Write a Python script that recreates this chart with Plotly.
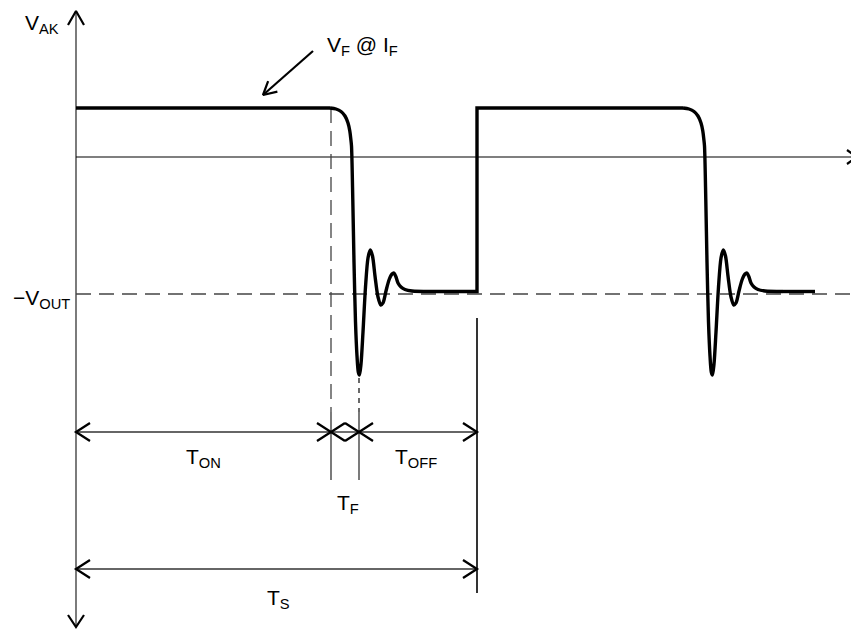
import math
import plotly.graph_objects as go

# ---------------- data (diagram coordinates: x = time, y = level, y grows downward) ----------------
W, H = 851, 629
axis_x0 = 76            # origin (time zero)
level_high = 108        # V_F @ I_F
level_zero = 157        # 0 V axis
level_neg = 294         # -V_OUT reference
level_settle = 291.5    # settled level after ringing

t_fall = [330, 683]     # start of each turn-off transition
t_rise = 477            # turn-on edge of next cycle
t_end = 815             # end of drawn waveform

# shape of the turn-off transition with ringing (offset from t_fall, level)
fall_dt = [0, 6, 11, 15, 18, 19.8, 20.8, 21.5, 22.8, 24, 25.5, 27, 28.3, 29.5, 31, 33, 35.5, 38, 40.3,
           42.5, 45, 48, 50.8, 53, 56, 59, 62, 64, 66, 68, 71, 75, 82, 100]
fall_v = [108, 109, 111.5, 116, 123, 131, 139, 146, 200, 262, 322, 356, 372, 375, 364, 332, 287, 258, 250,
          256, 276, 297, 305, 303, 291, 280, 274, 273, 277, 283, 287, 289.5, 291, 291.5]

# dimension lines
dim_labels = ["T<sub>ON</sub>", "T<sub>F</sub>", "T<sub>OFF</sub>", "T<sub>S</sub>"]
dim_y = [432, 432, 432, 569]
dim_start = [76, 331, 359, 76]
dim_end = [331, 359, 477, 477]
label_x = [203, 348, 416, 278]
label_y = [458, 504, 458, 599]

# ---------------- figure ----------------
fig = go.Figure()
BLACK = "#000000"
GRAY = "#333333"


def add_line(xs, ys, width=1.2, color=GRAY, dash="solid", shape="linear", smoothing=1.0):
    fig.add_trace(go.Scatter(x=xs, y=ys, mode="lines", hoverinfo="skip", showlegend=False,
                             line=dict(color=color, width=width, dash=dash, shape=shape,
                                       smoothing=smoothing)))


def chevron(tx, ty, dx, dy, length=14, half=9):
    # arrowhead with tip (tx,ty) pointing in direction (dx,dy)
    nx, ny = -dy, dx
    bx, by = tx - dx * length, ty - dy * length
    return [bx + nx * half, tx, bx - nx * half], [by + ny * half, ty, by - ny * half]


# axes
add_line([axis_x0, axis_x0], [11, 627], width=1.4, color="#444444")
add_line([axis_x0, W + 10], [level_zero, level_zero], width=1.2, color=BLACK)
ax, ay = chevron(axis_x0, 11, 0, -1, 14, 8)
add_line(ax, ay, width=2.2, color=BLACK)
ax, ay = chevron(axis_x0, 627, 0, 1, 12, 8)
add_line(ax, ay, width=2.2, color=BLACK)
ax, ay = chevron(W + 6, level_zero, 1, 0, 10, 7)
add_line(ax, ay, width=2.2, color=BLACK)

# -V_OUT dashed reference
add_line([axis_x0, W], [level_neg, level_neg], width=1.3, color="#444444", dash="15px,8px")

# vertical construction lines
add_line([331, 331], [level_high, 412], width=1.3, color="#444444", dash="15px,8px")
add_line([359, 359], [378, 412], width=1.6, color="#444444", dash="5px,5px")
add_line([331, 331], [412, 480], width=1.3, color=GRAY)
add_line([359, 359], [412, 480], width=1.3, color=GRAY)
add_line([t_rise, t_rise], [318, 593], width=1.6, color=BLACK)

# dimension lines with arrowheads
for y, s, e in zip(dim_y, dim_start, dim_end):
    add_line([s, e], [y, y], width=1.4, color=GRAY)
    cx, cy = chevron(s, y, -1, 0)
    add_line(cx, cy, width=2.3, color=BLACK)
    cx, cy = chevron(e, y, 1, 0)
    add_line(cx, cy, width=2.3, color=BLACK)

# waveform
add_line([axis_x0, t_fall[0]], [level_high, level_high], width=3.4, color=BLACK)
for t0 in t_fall:
    add_line([t0 + d for d in fall_dt], fall_v, width=3.4, color=BLACK, shape="spline", smoothing=0.8)
add_line([t_fall[0] + fall_dt[-1], t_rise, t_rise, t_fall[1]],
         [level_settle, level_settle, level_high, level_high], width=3.4, color=BLACK)
add_line([t_fall[1] + fall_dt[-1], t_end], [level_settle, level_settle], width=3.4, color=BLACK)

# V_F @ I_F pointer
add_line([313, 263], [51, 95], width=2.2, color=BLACK)
dx, dy = (263 - 313), (95 - 51)
n = math.hypot(dx, dy)
cx, cy = chevron(263, 95, dx / n, dy / n, 13, 7)
add_line(cx, cy, width=2.2, color=BLACK)

FONT = dict(family="Liberation Sans, Arial, sans-serif", size=21, color=BLACK)
annos = []
for txt, x, y in zip(dim_labels, label_x, label_y):
    annos.append(dict(x=x, y=y, text=txt, xanchor="center", yanchor="middle"))
annos.append(dict(x=61, y=24, text="V<sub>AK</sub>", xanchor="right", yanchor="middle"))
annos.append(dict(x=72, y=299, text="−V<sub>OUT</sub>", xanchor="right", yanchor="middle"))
annos.append(dict(x=325, y=46, text="V<sub>F</sub> @ I<sub>F</sub>", xanchor="left", yanchor="middle"))
for a in annos:
    a.update(xref="x", yref="y", showarrow=False, font=FONT)

fig.update_layout(
    width=W, height=H, margin=dict(l=0, r=0, t=0, b=0),
    paper_bgcolor="white", plot_bgcolor="white",
    xaxis=dict(range=[0, W], visible=False, fixedrange=True),
    yaxis=dict(range=[H, 0], visible=False, fixedrange=True),
    annotations=annos, showlegend=False,
)

fig.write_html("out.html", config=dict(displayModeBar=False),
               post_script="document.body.style.margin='0';document.body.style.overflow='hidden';")
